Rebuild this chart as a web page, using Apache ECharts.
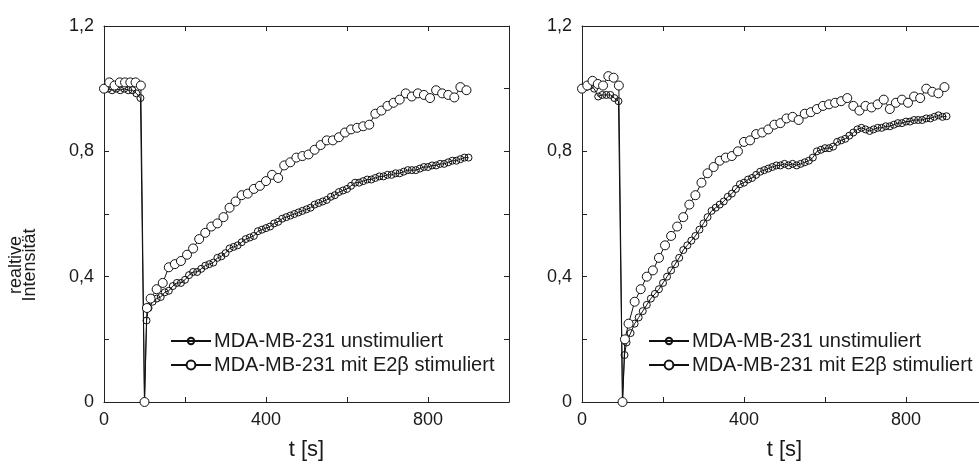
<!DOCTYPE html>
<html>
<head>
<meta charset="utf-8">
<script src="https://cdn.jsdelivr.net/npm/echarts@6/dist/echarts.min.js"></script>
<style>
  html, body { margin: 0; padding: 0; background: #fff; }
  #chart { width: 979px; height: 464px; }
</style>
</head>
<body>
<div id="chart"></div>
<script>
// FRAP recovery curves: relative intensity over time, two experiments side by side
const seriesNames = ['MDA-MB-231 unstimuliert', 'MDA-MB-231 mit E2\u03b2 stimuliert'];
const xTicks = [0, 400, 800];
const yTicks = ['0', '0,4', '0,8', '1,2'];

// time stamps (s) of the stimulated series
const tStim = [0, 13, 26, 39, 52, 65, 78, 91, 100, 106,
  115, 130, 145, 160, 175, 190, 205, 220, 235, 250,
  265, 280, 295, 310, 325, 340, 355, 370, 385, 400,
  415, 430, 445, 460, 475, 490, 505, 520, 535, 550,
  565, 580, 595, 610, 625, 640, 655, 670, 685, 700,
  715, 730, 745, 760, 775, 790, 805, 820, 835, 850,
  865, 880, 895];

// time stamps (s) of the unstimulated series
const tUnstim = [0, 10, 20, 30, 40, 50, 60, 70, 80, 90, 100, 105,
  110, 120, 130, 140, 150, 160, 170, 180, 190, 200,
  210, 220, 230, 240, 250, 260, 270, 280, 290, 300,
  310, 320, 330, 340, 350, 360, 370, 380, 390, 400,
  410, 420, 430, 440, 450, 460, 470, 480, 490, 500,
  510, 520, 530, 540, 550, 560, 570, 580, 590, 600,
  610, 620, 630, 640, 650, 660, 670, 680, 690, 700,
  710, 720, 730, 740, 750, 760, 770, 780, 790, 800,
  810, 820, 830, 840, 850, 860, 870, 880, 890, 900];

// left panel
const leftStim = [1.00, 1.02, 1.01, 1.02, 1.02, 1.02, 1.02, 1.01, 0, 0.30,
  0.33, 0.36, 0.38, 0.43, 0.44, 0.45, 0.47, 0.49, 0.52, 0.54,
  0.56, 0.57, 0.59, 0.62, 0.64, 0.66, 0.665, 0.68, 0.69, 0.705,
  0.725, 0.715, 0.755, 0.765, 0.78, 0.785, 0.79, 0.805, 0.82, 0.835,
  0.835, 0.845, 0.86, 0.87, 0.875, 0.88, 0.885, 0.92, 0.93, 0.945,
  0.955, 0.965, 0.985, 0.975, 0.985, 0.98, 0.97, 0.995, 0.985, 0.98,
  0.972, 1.005, 0.995];

const leftUnstim = [1.00, 1.00, 0.995, 1.00, 0.995, 1.00, 0.995, 0.995, 0.985, 0.97, 0, 0.26,
  0.30, 0.32, 0.33, 0.335, 0.35, 0.355, 0.37, 0.38, 0.38, 0.39,
  0.405, 0.415, 0.415, 0.425, 0.435, 0.44, 0.445, 0.46, 0.465, 0.475,
  0.49, 0.495, 0.50, 0.51, 0.52, 0.525, 0.53, 0.545, 0.55, 0.555,
  0.56, 0.57, 0.575, 0.585, 0.59, 0.595, 0.60, 0.605, 0.61, 0.615,
  0.62, 0.63, 0.635, 0.64, 0.645, 0.655, 0.66, 0.67, 0.675, 0.68,
  0.69, 0.70, 0.70, 0.705, 0.71, 0.71, 0.715, 0.72, 0.72, 0.725,
  0.725, 0.73, 0.73, 0.735, 0.74, 0.74, 0.74, 0.745, 0.75, 0.75,
  0.755, 0.755, 0.76, 0.76, 0.765, 0.77, 0.77, 0.775, 0.78, 0.78];

// right panel
const rightStim = [1.00, 1.01, 1.025, 1.015, 1.01, 1.04, 1.035, 1.01, 0, 0.20,
  0.25, 0.32, 0.36, 0.40, 0.42, 0.46, 0.50, 0.53, 0.56, 0.59,
  0.63, 0.66, 0.70, 0.73, 0.75, 0.77, 0.78, 0.785, 0.80, 0.83,
  0.835, 0.855, 0.86, 0.87, 0.885, 0.89, 0.905, 0.91, 0.90, 0.92,
  0.925, 0.935, 0.945, 0.95, 0.955, 0.96, 0.97, 0.945, 0.93, 0.945,
  0.94, 0.95, 0.965, 0.935, 0.955, 0.965, 0.955, 0.975, 0.97, 1.00,
  0.99, 0.985, 1.005];

const rightUnstim = [1.00, 1.005, 1.01, 1.00, 0.975, 0.98, 0.98, 0.98, 0.97, 0.96, 0, 0.15,
  0.19, 0.22, 0.25, 0.27, 0.29, 0.31, 0.33, 0.345, 0.36, 0.38,
  0.40, 0.42, 0.44, 0.46, 0.485, 0.50, 0.515, 0.53, 0.55, 0.57,
  0.59, 0.61, 0.62, 0.63, 0.64, 0.655, 0.665, 0.68, 0.695, 0.70,
  0.71, 0.715, 0.725, 0.735, 0.74, 0.745, 0.75, 0.755, 0.755, 0.76,
  0.755, 0.76, 0.755, 0.76, 0.765, 0.77, 0.78, 0.80, 0.805, 0.81,
  0.81, 0.815, 0.83, 0.835, 0.84, 0.85, 0.86, 0.87, 0.875, 0.87,
  0.865, 0.87, 0.875, 0.875, 0.88, 0.88, 0.885, 0.89, 0.89, 0.895,
  0.895, 0.90, 0.90, 0.90, 0.905, 0.905, 0.91, 0.915, 0.91, 0.912];

const FONT = '"Liberation Sans", Arial, Helvetica, sans-serif';
const INK = '#1a1a1a';

const pair = (ts, vs) => ts.map((t, i) => [t, vs[i]]);

const panels = [
  { left: 104, stim: leftStim, unstim: leftUnstim },
  { left: 582, stim: rightStim, unstim: rightUnstim }
];

const grids = [], xAxes = [], yAxes = [], series = [], legends = [];

panels.forEach((p, gi) => {
  // fixed plot box; the right panel deliberately runs past the canvas edge
  grids.push({ left: p.left, top: 26, width: 405, height: 376, outerBoundsMode: 'none', containLabel: false });

  const axisBase = {
    min: 0, max: 1000, interval: 200,
    axisLine: { show: true, onZero: false, lineStyle: { color: '#222', width: 1 } },
    axisTick: { show: true, inside: true, length: 5, lineStyle: { color: '#222', width: 1 } },
    splitLine: { show: false }
  };
  // bottom axis with labels and name
  xAxes.push(Object.assign({}, axisBase, {
    type: 'value', gridIndex: gi, position: 'bottom',
    axisLabel: {
      show: true, margin: 9, fontSize: 18, fontFamily: FONT, color: INK,
      formatter: v => (xTicks.indexOf(v) >= 0 ? String(v) : '')
    },
    name: 't [s]', nameLocation: 'middle', nameGap: 37,
    nameTextStyle: { fontSize: 22, fontFamily: FONT, color: INK }
  }));
  // top frame edge
  xAxes.push(Object.assign({}, axisBase, {
    type: 'value', gridIndex: gi, position: 'top',
    axisLabel: { show: false }
  }));

  const yBase = {
    type: 'value', gridIndex: gi, min: 0, max: 1.2, interval: 0.2,
    axisLine: { show: true, onZero: false, lineStyle: { color: '#222', width: 1 } },
    axisTick: { show: true, inside: true, length: 5, lineStyle: { color: '#222', width: 1 } },
    splitLine: { show: false }
  };
  yAxes.push(Object.assign({}, yBase, {
    position: 'left',
    axisLabel: {
      show: true, margin: 10, fontSize: 18, fontFamily: FONT, color: INK,
      formatter: v => {
        const k = Math.round(v * 10);
        return k % 4 === 0 ? yTicks[k / 4] : '';
      }
    }
  }));
  yAxes.push(Object.assign({}, yBase, {
    position: 'right',
    axisLabel: { show: false }
  }));

  const xi = gi * 2, yi = gi * 2;
  series.push({
    name: seriesNames[0], type: 'line', xAxisIndex: xi, yAxisIndex: yi,
    data: pair(tUnstim, p.unstim),
    symbol: 'circle', symbolSize: 7, showAllSymbol: true,
    lineStyle: { color: '#111', width: 1 },
    itemStyle: { color: 'rgba(255,255,255,0)', borderColor: '#111', borderWidth: 1 },
    emphasis: { disabled: true }, animation: false, z: 2
  });
  series.push({
    name: seriesNames[1], type: 'line', xAxisIndex: xi, yAxisIndex: yi,
    data: pair(tStim, p.stim),
    symbol: 'circle', symbolSize: 9, showAllSymbol: true,
    lineStyle: { color: '#111', width: 1 },
    itemStyle: { color: '#fff', borderColor: '#111', borderWidth: 1 },
    emphasis: { disabled: true }, animation: false, z: 3
  });

  // legend rows inside each panel
  const lx = p.left + 66;
  [0, 1].forEach(k => {
    legends.push({
      data: [seriesNames[k]],
      left: lx, top: 331 + k * 24, padding: 0,
      itemWidth: 40, itemHeight: k === 0 ? 8 : 11, itemGap: 0,
      selectedMode: false,
      textStyle: { fontSize: 20, fontFamily: FONT, color: INK, padding: [0, 0, 0, -2] }
    });
  });
});

const chart = echarts.init(document.getElementById('chart'), null, { renderer: 'canvas' });
chart.setOption({
  backgroundColor: '#fff',
  animation: false,
  grid: grids,
  xAxis: xAxes,
  yAxis: yAxes,
  legend: legends,
  series: series,
  graphic: [{
    type: 'text',
    x: 23, y: 265,
    rotation: Math.PI / 2,
    style: {
      text: 'realtive\nIntensit\u00e4t',
      fontSize: 18,
      fontFamily: FONT,
      fill: INK,
      align: 'center',
      verticalAlign: 'middle',
      lineHeight: 14
    }
  }]
});
</script>
</body>
</html>
